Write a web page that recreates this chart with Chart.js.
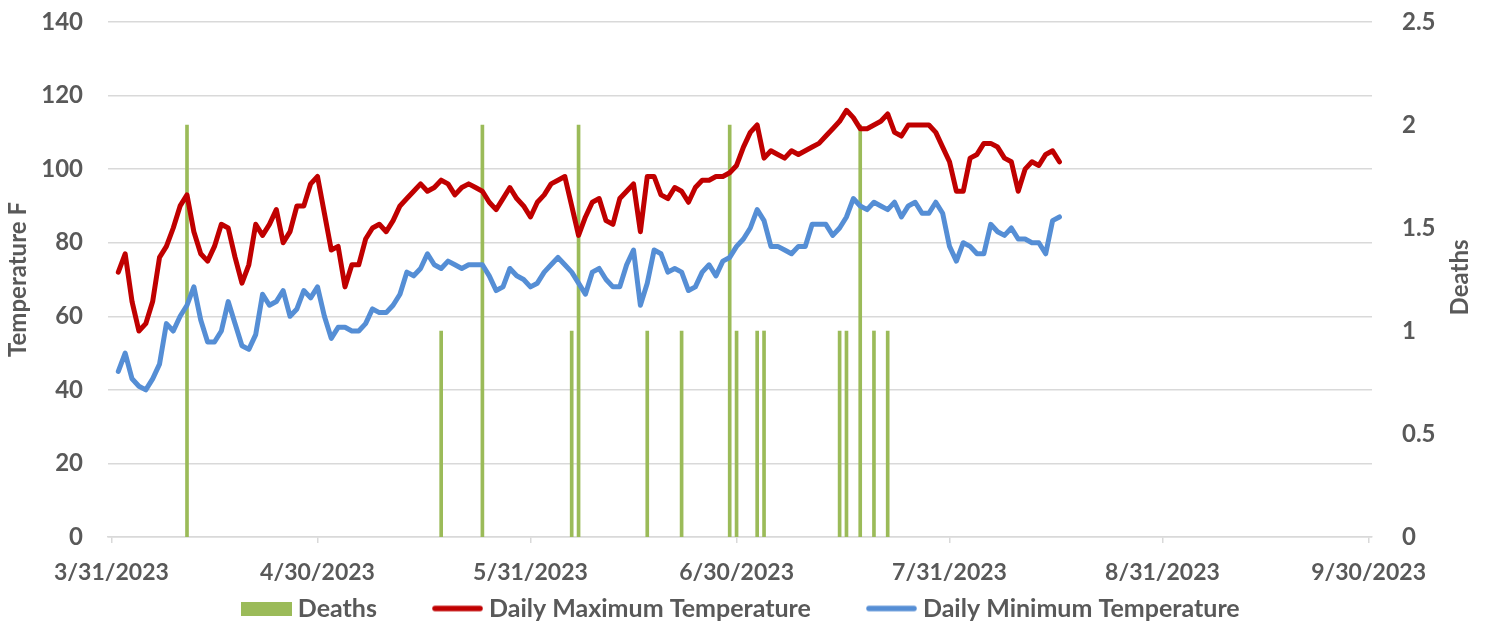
<!DOCTYPE html>
<html>
<head>
<meta charset="utf-8">
<script src="https://cdn.jsdelivr.net/npm/chart.js@4/dist/chart.umd.min.js"></script>
<style>
  html, body { margin: 0; padding: 0; background: #fff; }
  #wrap { width: 1487px; height: 621px; }
</style>
</head>
<body>
<div id="wrap"><canvas id="heatChart"></canvas></div>
<script>
// first day of the temperature series
const startDate = "4/1/2023";

const maxTemp = [72, 77, 64, 56, 58, 64, 76, 79, 84, 90, 93, 83, 77, 75, 79, 85, 84, 76, 69, 74,
    85, 82, 85, 89, 80, 83, 90, 90, 96, 98, 88, 78, 79, 68, 74, 74, 81, 84, 85, 83,
    86, 90, 92, 94, 96, 94, 95, 97, 96, 93, 95, 96, 95, 94, 91, 89, 92, 95, 92, 90,
    87, 91, 93, 96, 97, 98, 90, 82, 87, 91, 92, 86, 85, 92, 94, 96, 83, 98, 98, 93,
    92, 95, 94, 91, 95, 97, 97, 98, 98, 99, 101, 106, 110, 112, 103, 105, 104, 103, 105, 104,
    105, 106, 107, 109, 111, 113, 116, 114, 111, 111, 112, 113, 115, 110, 109, 112, 112, 112, 112, 110,
    106, 102, 94, 94, 103, 104, 107, 107, 106, 103, 102, 94, 100, 102, 101, 104, 105, 102];

const minTemp = [45, 50, 43, 41, 40, 43, 47, 58, 56, 60, 63, 68, 59, 53, 53, 56, 64, 58, 52, 51,
    55, 66, 63, 64, 67, 60, 62, 67, 65, 68, 60, 54, 57, 57, 56, 56, 58, 62, 61, 61,
    63, 66, 72, 71, 73, 77, 74, 73, 75, 74, 73, 74, 74, 74, 71, 67, 68, 73, 71, 70,
    68, 69, 72, 74, 76, 74, 72, 69, 66, 72, 73, 70, 68, 68, 74, 78, 63, 69, 78, 77,
    72, 73, 72, 67, 68, 72, 74, 71, 75, 76, 79, 81, 84, 89, 86, 79, 79, 78, 77, 79,
    79, 85, 85, 85, 82, 84, 87, 92, 90, 89, 91, 90, 89, 91, 87, 90, 91, 88, 88, 91,
    88, 79, 75, 80, 79, 77, 77, 85, 83, 82, 84, 81, 81, 80, 80, 77, 86, 87];

const deathDates = ["4/11/2023", "5/18/2023", "5/24/2023", "6/6/2023", "6/7/2023", "6/17/2023",
    "6/22/2023", "6/29/2023", "6/30/2023", "7/3/2023", "7/4/2023", "7/15/2023", "7/16/2023",
    "7/18/2023", "7/20/2023", "7/22/2023"];
const deathCounts = [2, 1, 2, 1, 2, 1, 1, 2, 1, 1, 1, 1, 1, 2, 1, 1];

const tickLabels = ["3/31/2023", "4/30/2023", "5/31/2023", "6/30/2023", "7/31/2023", "8/31/2023", "9/30/2023"];

// days counted from the first tick date
const base = tickLabels[0];
function toUTC(s) {
    const [m, d, y] = s.split("/").map(Number);
    return Date.UTC(y, m - 1, d);
}
function dayOf(s) {
    return Math.round((toUTC(s) - toUTC(base)) / 86400000);
}

const firstDay = dayOf(startDate);
const tickDays = tickLabels.map(dayOf);
const lastTick = tickDays[tickDays.length - 1];

const grey = "#595959";
const gridGrey = "#D9D9D9";
const green = "#9BBB59";
const red = "#C00000";
const blue = "#558ED5";
const fontFamily = "Lato, 'Open Sans', sans-serif";

// legend symbols: wide green block, thick rounded lines
function legendIcon(color, isLine) {
    const c = document.createElement("canvas");
    c.width = 51;
    c.height = 14;
    const g = c.getContext("2d");
    if (isLine) {
        g.strokeStyle = color;
        g.lineWidth = 5.5;
        g.lineCap = "round";
        g.beginPath();
        g.moveTo(3, 7);
        g.lineTo(48, 7);
        g.stroke();
    } else {
        g.fillStyle = color;
        g.fillRect(0, 0, 51, 14);
    }
    return c;
}
const icons = [legendIcon(green, false), legendIcon(red, true), legendIcon(blue, true)];

// right axis title reads bottom-to-top, like the left one
const rightTitle = {
    id: "rightTitle",
    afterDraw(chart) {
        const s = chart.scales.y2;
        const c = chart.ctx;
        c.save();
        c.translate(s.right - 27, (s.top + s.bottom) / 2 - 2);
        c.rotate(-Math.PI / 2);
        c.textAlign = "center";
        c.textBaseline = "middle";
        c.font = "bold 24px " + fontFamily;
        c.fillStyle = grey;
        c.fillText("Deaths", 0, 0);
        c.restore();
    }
};

const ctx = document.getElementById("heatChart").getContext("2d");

new Chart(ctx, {
    data: {
        datasets: [{
            type: "bar",
            label: "Deaths",
            data: deathDates.map((d, i) => ({ x: dayOf(d), y: deathCounts[i] })),
            backgroundColor: green,
            borderWidth: 0,
            barThickness: 3,
            yAxisID: "y2",
            order: 2
        }, {
            type: "line",
            label: "Daily Maximum Temperature",
            data: maxTemp.map((v, i) => ({ x: firstDay + i, y: v })),
            borderColor: red,
            backgroundColor: red,
            borderWidth: 5,
            borderCapStyle: "round",
            borderJoinStyle: "round",
            pointRadius: 0,
            tension: 0,
            yAxisID: "y",
            order: 1
        }, {
            type: "line",
            label: "Daily Minimum Temperature",
            data: minTemp.map((v, i) => ({ x: firstDay + i, y: v })),
            borderColor: blue,
            backgroundColor: blue,
            borderWidth: 5,
            borderCapStyle: "round",
            borderJoinStyle: "round",
            pointRadius: 0,
            tension: 0,
            yAxisID: "y",
            order: 1
        }]
    },
    plugins: [rightTitle],
    options: {
        responsive: true,
        maintainAspectRatio: false,
        animation: false,
        layout: {
            padding: { left: 0, right: 0, top: 22, bottom: -10 }
        },
        plugins: {
            tooltip: { enabled: false },
            legend: {
                position: "bottom",
                labels: {
                    usePointStyle: true,
                    pointStyleWidth: 38,
                    boxHeight: 14,
                    padding: 13,
                    color: grey,
                    font: { family: fontFamily, size: 25, weight: "bold" },
                    sort: (a, b) => a.datasetIndex - b.datasetIndex,
                    generateLabels: function (chart) {
                        const items = Chart.defaults.plugins.legend.labels.generateLabels(chart);
                        items.forEach(it => {
                            it.pointStyle = icons[it.datasetIndex];
                            // extra gap after each entry, like the spreadsheet legend
                            if (it.datasetIndex < 2) it.text = it.text + " ".repeat(8);
                        });
                        return items;
                    }
                }
            }
        },
        scales: {
            x: {
                type: "linear",
                offset: false,
                min: tickDays[0] - 0.5,
                max: lastTick + 0.5,
                afterBuildTicks: axis => {
                    axis.ticks = tickDays.map(v => ({ value: v }));
                },
                afterFit: axis => {
                    axis.paddingLeft = 0;
                    axis.paddingRight = 0;
                    axis.height = 46;
                },
                ticks: {
                    autoSkip: false,
                    maxRotation: 0,
                    color: grey,
                    padding: 16,
                    font: { family: fontFamily, size: 23, weight: "bold" },
                    callback: function (value) {
                        const i = tickDays.indexOf(value);
                        return i >= 0 ? tickLabels[i] : "";
                    }
                },
                grid: {
                    offset: false,
                    drawOnChartArea: false,
                    color: gridGrey,
                    lineWidth: 1.5,
                    tickLength: 6
                },
                border: { color: gridGrey, width: 1.5 }
            },
            y: {
                position: "left",
                min: 0,
                max: 140,
                afterFit: axis => {
                    axis.width = 108;
                    axis.paddingTop = 0;
                    axis.paddingBottom = 0;
                },
                ticks: {
                    stepSize: 20,
                    color: grey,
                    padding: 25,
                    font: { family: fontFamily, size: 24, weight: "bold" }
                },
                grid: {
                    color: gridGrey,
                    lineWidth: 1.5,
                    drawTicks: false
                },
                border: { display: false },
                title: {
                    display: true,
                    text: "Temperature F",
                    color: grey,
                    padding: 3.6,
                    font: { family: fontFamily, size: 24, weight: "bold" }
                }
            },
            y2: {
                position: "right",
                min: 0,
                max: 2.5,
                afterFit: axis => {
                    axis.width = 115;
                    axis.paddingTop = 0;
                    axis.paddingBottom = 0;
                },
                ticks: {
                    stepSize: 0.5,
                    color: grey,
                    padding: 30,
                    font: { family: fontFamily, size: 24, weight: "bold" },
                    callback: v => String(Number(v.toFixed(1)))
                },
                grid: { display: false, drawTicks: false },
                border: { display: false }
            }
        }
    }
});
</script>
</body>
</html>
